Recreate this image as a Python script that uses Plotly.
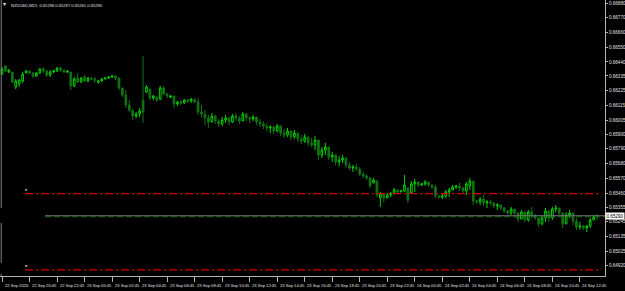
import plotly.graph_objects as go

symbol_title = "NZDUSD,M15  0.65296 0.65297 0.65261 0.65290"

opens = [0.66349,0.66409,0.66364,0.66364,0.66252,0.66275,0.66297,0.66357,0.66372,0.66357,
         0.66334,0.66357,0.66387,0.66372,0.66342,0.66364,0.66372,0.66394,0.66379,0.66364,
         0.66364,0.66260,0.66319,0.66289,0.66327,0.66297,0.66319,0.66312,0.66289,0.66297,
         0.66312,0.66319,0.66327,0.66334,0.66319,0.66245,0.66192,0.66118,0.66080,0.66035,
         0.66050,0.66155,0.66215,0.66237,0.66170,0.66177,0.66162,0.66245,0.66200,0.66177,
         0.66185,0.66125,0.66140,0.66133,0.66155,0.66148,0.66155,0.66140,0.66065,0.66050,
         0.66021,0.65991,0.66035,0.65998,0.65976,0.66006,0.66021,0.65991,0.66035,0.66021,
         0.65998,0.66050,0.66021,0.66013,0.66028,0.65991,0.65976,0.65961,0.65946,0.65953,
         0.65923,0.65961,0.65908,0.65894,0.65923,0.65879,0.65908,0.65864,0.65849,0.65879,
         0.65834,0.65819,0.65856,0.65744,0.65781,0.65804,0.65729,0.65744,0.65692,0.65707,
         0.65722,0.65669,0.65647,0.65654,0.65639,0.65602,0.65587,0.65572,0.65535,0.65550,
         0.65423,0.65453,0.65423,0.65445,0.65453,0.65483,0.65468,0.65475,0.65498,0.65460,
         0.65528,0.65542,0.65520,0.65528,0.65542,0.65520,0.65505,0.65438,0.65430,0.65438,
         0.65468,0.65483,0.65505,0.65513,0.65498,0.65475,0.65513,0.65550,0.65401,0.65393,
         0.65415,0.65386,0.65393,0.65386,0.65363,0.65371,0.65348,0.65326,0.65311,0.65341,
         0.65311,0.65266,0.65318,0.65259,0.65318,0.65296,0.65274,0.65229,0.65274,0.65326,
         0.65274,0.65341,0.65348,0.65311,0.65229,0.65296,0.65311,0.65251,0.65206,0.65214,
         0.65199,0.65214,0.65259,0.65296]
highs = [0.66402,0.66416,0.66387,0.66364,0.66312,0.66312,0.66364,0.66379,0.66372,0.66364,
         0.66364,0.66394,0.66402,0.66379,0.66379,0.66379,0.66402,0.66402,0.66379,0.66372,
         0.66364,0.66327,0.66357,0.66327,0.66342,0.66327,0.66327,0.66327,0.66304,0.66319,
         0.66327,0.66327,0.66342,0.66334,0.66327,0.66245,0.66230,0.66155,0.66080,0.66065,
         0.66095,0.66484,0.66267,0.66237,0.66192,0.66177,0.66260,0.66260,0.66207,0.66192,
         0.66185,0.66148,0.66155,0.66162,0.66162,0.66170,0.66170,0.66170,0.66118,0.66080,
         0.66043,0.66058,0.66043,0.66013,0.66028,0.66043,0.66028,0.66050,0.66058,0.66035,
         0.66065,0.66058,0.66035,0.66043,0.66028,0.66013,0.65998,0.65983,0.65968,0.65961,
         0.65976,0.65961,0.65938,0.65946,0.65923,0.65931,0.65908,0.65894,0.65901,0.65879,
         0.65871,0.65886,0.65856,0.65804,0.65834,0.65804,0.65767,0.65752,0.65737,0.65744,
         0.65722,0.65692,0.65669,0.65677,0.65654,0.65617,0.65602,0.65580,0.65572,0.65557,
         0.65468,0.65460,0.65460,0.65468,0.65498,0.65483,0.65483,0.65595,0.65498,0.65550,
         0.65565,0.65542,0.65535,0.65557,0.65542,0.65520,0.65520,0.65445,0.65453,0.65483,
         0.65498,0.65520,0.65520,0.65535,0.65505,0.65542,0.65572,0.65550,0.65408,0.65430,
         0.65445,0.65408,0.65408,0.65393,0.65386,0.65371,0.65356,0.65333,0.65356,0.65341,
         0.65311,0.65333,0.65318,0.65333,0.65356,0.65296,0.65274,0.65296,0.65348,0.65326,
         0.65356,0.65371,0.65348,0.65311,0.65318,0.65333,0.65311,0.65274,0.65244,0.65221,
         0.65221,0.65274,0.65296,0.65297]
lows = [0.66342,0.66364,0.66357,0.66282,0.66237,0.66252,0.66282,0.66357,0.66349,0.66319,
        0.66327,0.66349,0.66357,0.66327,0.66327,0.66357,0.66364,0.66364,0.66357,0.66357,
        0.66230,0.66252,0.66282,0.66282,0.66289,0.66289,0.66304,0.66282,0.66275,0.66289,
        0.66312,0.66312,0.66319,0.66304,0.66230,0.66177,0.66095,0.66065,0.66006,0.66021,
        0.66028,0.65983,0.66207,0.66155,0.66155,0.66140,0.66155,0.66192,0.66170,0.66170,
        0.66095,0.66110,0.66118,0.66125,0.66133,0.66133,0.66133,0.66043,0.66021,0.65968,
        0.65946,0.65991,0.65976,0.65953,0.65961,0.65983,0.65968,0.65983,0.65998,0.65976,
        0.65998,0.65998,0.65983,0.65998,0.65968,0.65953,0.65938,0.65923,0.65908,0.65901,
        0.65916,0.65886,0.65871,0.65879,0.65856,0.65864,0.65841,0.65826,0.65834,0.65811,
        0.65804,0.65781,0.65707,0.65722,0.65744,0.65707,0.65692,0.65669,0.65662,0.65684,
        0.65647,0.65632,0.65617,0.65625,0.65587,0.65572,0.65557,0.65498,0.65535,0.65430,
        0.65356,0.65393,0.65423,0.65430,0.65453,0.65453,0.65468,0.65468,0.65386,0.65460,
        0.65468,0.65505,0.65513,0.65513,0.65505,0.65490,0.65423,0.65415,0.65415,0.65423,
        0.65430,0.65483,0.65490,0.65475,0.65460,0.65445,0.65483,0.65371,0.65378,0.65371,
        0.65363,0.65348,0.65371,0.65348,0.65333,0.65333,0.65311,0.65296,0.65296,0.65296,
        0.65244,0.65266,0.65244,0.65244,0.65274,0.65259,0.65206,0.65221,0.65244,0.65244,
        0.65259,0.65318,0.65296,0.65199,0.65229,0.65274,0.65221,0.65184,0.65184,0.65184,
        0.65169,0.65199,0.65259,0.65261]
closes = [0.66387,0.66372,0.66379,0.66289,0.66297,0.66304,0.66349,0.66372,0.66357,0.66334,
          0.66357,0.66387,0.66372,0.66342,0.66364,0.66372,0.66394,0.66379,0.66364,0.66372,
          0.66260,0.66312,0.66289,0.66319,0.66297,0.66319,0.66312,0.66304,0.66297,0.66312,
          0.66319,0.66327,0.66334,0.66319,0.66245,0.66192,0.66118,0.66080,0.66035,0.66050,
          0.66073,0.66065,0.66252,0.66170,0.66185,0.66155,0.66245,0.66200,0.66185,0.66185,
          0.66125,0.66140,0.66133,0.66155,0.66148,0.66162,0.66140,0.66065,0.66050,0.66021,
          0.65991,0.66035,0.65998,0.65976,0.66006,0.66021,0.65991,0.66035,0.66021,0.65998,
          0.66050,0.66021,0.66013,0.66028,0.65991,0.65976,0.65961,0.65946,0.65953,0.65923,
          0.65961,0.65908,0.65894,0.65923,0.65879,0.65908,0.65864,0.65849,0.65879,0.65834,
          0.65819,0.65856,0.65744,0.65781,0.65804,0.65729,0.65744,0.65692,0.65707,0.65722,
          0.65669,0.65647,0.65654,0.65639,0.65602,0.65587,0.65572,0.65513,0.65557,0.65445,
          0.65453,0.65423,0.65445,0.65453,0.65483,0.65468,0.65475,0.65520,0.65408,0.65528,
          0.65542,0.65520,0.65528,0.65542,0.65520,0.65505,0.65438,0.65430,0.65438,0.65468,
          0.65483,0.65505,0.65513,0.65498,0.65475,0.65528,0.65550,0.65401,0.65393,0.65415,
          0.65386,0.65393,0.65386,0.65363,0.65371,0.65348,0.65326,0.65311,0.65341,0.65311,
          0.65266,0.65318,0.65259,0.65318,0.65296,0.65274,0.65229,0.65274,0.65326,0.65274,
          0.65341,0.65348,0.65311,0.65229,0.65296,0.65311,0.65251,0.65206,0.65214,0.65199,
          0.65214,0.65259,0.65281,0.65290]

bar_index = list(range(len(closes)))

xtick_bars = [0, 8, 16, 24, 32, 40, 48, 56, 64, 72, 80, 88, 96, 104, 112, 120, 128, 136, 144, 152, 160, 168]
xtick_labels = ["22 Sep 2020", "22 Sep 20:45", "22 Sep 22:45", "23 Sep 00:45", "23 Sep 02:45",
                "23 Sep 04:45", "23 Sep 06:45", "23 Sep 08:45", "23 Sep 10:45", "23 Sep 12:45",
                "23 Sep 14:45", "23 Sep 16:45", "23 Sep 18:45", "23 Sep 20:45", "23 Sep 22:45",
                "24 Sep 00:45", "24 Sep 02:45", "24 Sep 04:45", "24 Sep 06:45", "24 Sep 08:45",
                "24 Sep 10:45", "24 Sep 12:45"]

ytick_labels = ["0.66880", "0.66770", "0.66660", "0.66550", "0.66440", "0.66335", "0.66225",
                "0.66115", "0.66005", "0.65900", "0.65790", "0.65680", "0.65570", "0.65460",
                "0.65355", "0.65245", "0.65135", "0.65025", "0.64920", "0.64810"]

level_lines = [0.65455, 0.64885]
bid_price = 0.65290

FONT = "Liberation Sans"
FS = 4.6
FSX = 4.1
bull_line = "#00d000"
bear_col = "#137313"

fig = go.Figure()
fig.add_trace(go.Candlestick(
    x=bar_index, open=opens, high=highs, low=lows, close=closes,
    increasing=dict(line=dict(color=bull_line, width=1), fillcolor="#000000"),
    decreasing=dict(line=dict(color=bear_col, width=1), fillcolor=bear_col),
    whiskerwidth=0, showlegend=False, hoverinfo="skip"))

shapes = []
for lv in level_lines:
    shapes.append(dict(type="line", xref="paper", yref="y", x0=25/605, x1=600/605, y0=lv, y1=lv,
                       line=dict(color="#d20000", width=1.2, dash="8px,3px,2px,3px")))
shapes.append(dict(type="line", xref="paper", yref="y", x0=45/605, x1=1, y0=bid_price, y1=bid_price,
                   line=dict(color="#7a7a7a", width=1)))
shapes.append(dict(type="line", xref="paper", yref="y", x0=45/605, x1=1, ysizemode="pixel",
                   yanchor=bid_price, y0=-1, y1=-1,
                   line=dict(color="#1d6e1d", width=1, dash="6px,3px")))
for a, b in [(0, 208), (223, 263), (274, 276)]:
    shapes.append(dict(type="line", xref="paper", yref="paper", x0=0.002, x1=0.002,
                       y0=1 - a/276, y1=1 - b/276, line=dict(color="#808080", width=1)))

ann = []
for b, t in zip(xtick_bars, xtick_labels):
    ann.append(dict(x=b, y=0, xref="x", yref="paper", text=t, showarrow=False,
                    xanchor="left", yanchor="top", xshift=0.5, yshift=-5,
                    font=dict(family=FONT, size=FSX, color="#e0e0e0")))
ann.append(dict(x=1, y=float(ytick_labels[-1]), xref="paper", yref="y", text=ytick_labels[-1],
                showarrow=False, xanchor="left", yanchor="middle", xshift=2,
                font=dict(family=FONT, size=FS, color="#e0e0e0")))
ann.append(dict(x=1, y=bid_price, xref="paper", yref="y", text=f"{bid_price:.5f}",
                showarrow=False, xanchor="left", yanchor="middle", xshift=0,
                bgcolor="#ffffff", borderpad=0.5,
                font=dict(family=FONT, size=FS, color="#000000")))
ann.append(dict(x=0, y=1, xref="paper", yref="paper", text="▾", showarrow=False,
                xanchor="left", yanchor="top", xshift=1, yshift=1,
                font=dict(family=FONT, size=6, color="#e0e0e0")))
ann.append(dict(x=0, y=1, xref="paper", yref="paper", text=symbol_title, showarrow=False,
                xanchor="left", yanchor="top", xshift=9, yshift=-1,
                font=dict(family=FONT, size=FSX, color="#e0e0e0")))
for lv in level_lines:
    ann.append(dict(x=26/605, y=lv, xref="paper", yref="y", text="■", showarrow=False,
                    xanchor="center", yanchor="bottom", yshift=0,
                    font=dict(family=FONT, size=3.5, color="#b8b8c8")))

fig.update_layout(
    width=625, height=291, margin=dict(l=0, r=20, t=0, b=15),
    paper_bgcolor="#000000", plot_bgcolor="#000000",
    shapes=shapes, annotations=ann,
    xaxis=dict(range=[-0.58, 175.3], rangeslider=dict(visible=False), showgrid=False,
               zeroline=False, showline=True, linecolor="#b0b0b0", linewidth=1,
               tickmode="array", tickvals=xtick_bars, ticktext=[""] * len(xtick_bars),
               ticks="outside", ticklen=5, tickcolor="#b0b0b0", tickwidth=1,
               showticklabels=False, fixedrange=True),
    yaxis=dict(range=[0.648399, 0.669024], side="right", showgrid=False, zeroline=False,
               showline=True, linecolor="#b0b0b0", linewidth=1,
               tickmode="array", tickvals=[float(v) for v in ytick_labels[:-1]],
               ticktext=ytick_labels[:-1], ticks="outside", ticklen=2, tickcolor="#b0b0b0",
               tickfont=dict(family=FONT, size=FS, color="#e0e0e0"), fixedrange=True),
)

fig.write_html("out.html")
